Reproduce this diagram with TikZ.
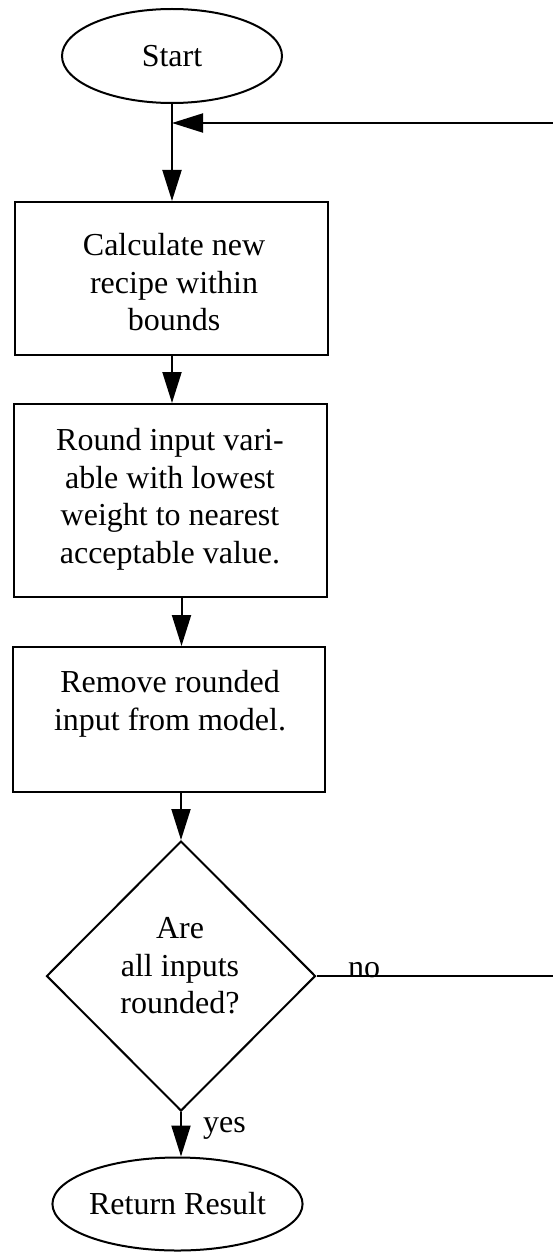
\documentclass[tikz,border=0pt]{standalone}
\usepackage{fontspec}
\setmainfont{Liberation Serif}
\usetikzlibrary{shapes.geometric,arrows.meta}
\begin{document}
\begin{tikzpicture}[x=1pt,y=-1pt,
  every node/.style={font=\fontsize{32}{37.7}\selectfont},
  flow/.style={line width=2pt},
  arr/.style={flow,-{Triangle[length=31pt,width=19pt]}},
  stepbox/.style={draw,line width=2pt,rectangle,inner sep=0pt},
  terminal/.style={draw,line width=2pt,ellipse,inner sep=0pt},
  decision/.style={draw,line width=2pt,diamond,inner sep=0pt},
  txt/.style={align=center,inner sep=0pt,anchor=north}]
\useasboundingbox (0,0) rectangle (553,1252);

% terminals
\node[terminal,minimum width=220pt,minimum height=94pt] (start) at (172,56) {Start};
\node[terminal,minimum width=215pt,minimum height=93pt] (ret) at (177.5,1204) {Return Result};

% process boxes
\node[stepbox,minimum width=313pt,minimum height=153pt] (calc) at (171.5,278.5) {};
\node[txt] (calctxt) at (174,233) {Calculate new\\recipe within\\bounds};

\node[stepbox,minimum width=313pt,minimum height=193pt] (round) at (170.5,500.5) {};
\node[txt] (roundtxt) at (170,428) {Round input vari-\\able with lowest\\weight to nearest\\acceptable value.};

\node[stepbox,minimum width=312pt,minimum height=145pt] (remove) at (169,719.5) {};
\node[txt] (removetxt) at (170,670) {Remove rounded\\input from model.};

% decision
\node[decision,minimum width=269pt,minimum height=270pt] (test) at (181,976) {};
\node[txt] (testtxt) at (180,917) {Are\\all inputs\\rounded?};

% loop-back ends at the right margin
\coordinate (noend) at (553,976);
\coordinate (backstart) at (553,123);
\coordinate (join) at (172,123);

% connectors
\draw[flow] (start.south -| join) -- (join);
\draw[arr] (join) -- (join |- calc.north);
\draw[arr] (calc.south -| join) -- (join |- round.north);
\draw[arr] ([xshift=11pt]round.south) -- ([xshift=11pt]round.south |- remove.north);
\draw[arr] (remove.south -| test.north) -- (test.north);
\draw[arr] (test.south) -- (test.south |- ret.north);
\draw[flow] (test.east) -- (noend);
\draw[arr] (backstart) -- (join);

% branch labels
\node[anchor=base west,inner sep=0pt] (nolbl) at (348,977) {no};
\node[anchor=base west,inner sep=0pt] (yeslbl) at (203,1132) {yes};
\end{tikzpicture}
\end{document}
